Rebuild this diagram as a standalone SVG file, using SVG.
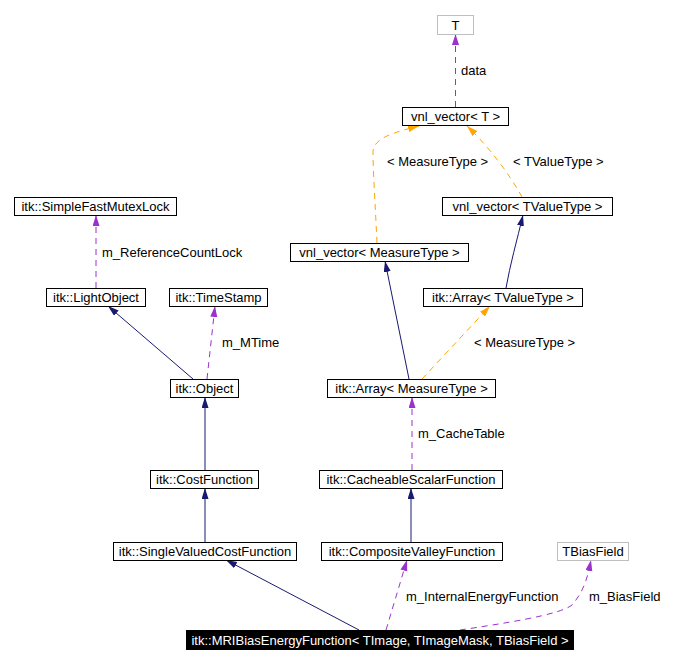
<svg xmlns="http://www.w3.org/2000/svg" width="689" height="665" viewBox="0 0 689 665">
<style>
  .box { fill: #ffffff; stroke: #000000; stroke-width: 1; }
  .gbox { fill: #ffffff; stroke: #bfbfbf; stroke-width: 1; }
  .dark { fill: #000000; stroke: #000000; stroke-width: 1; }
  text { font-family: "Liberation Sans", Arial, sans-serif; font-size: 13px; fill: #000000; }
  .nt { text-anchor: middle; }
  .wt { fill: #ffffff; }
  .inh { fill: none; stroke: #191970; stroke-width: 1; }
  .use { fill: none; stroke: #9a32cd; stroke-width: 1; stroke-dasharray: 6,5; }
  .tpl { fill: none; stroke: #ffa500; stroke-width: 1; stroke-dasharray: 6,5; }
</style>
<defs>
  <marker id="aInh" markerUnits="userSpaceOnUse" markerWidth="12" markerHeight="8" refX="11" refY="3.5" orient="auto">
    <path d="M0,0 L11,3.5 L0,7 z" fill="#191970"/>
  </marker>
  <marker id="aUse" markerUnits="userSpaceOnUse" markerWidth="12" markerHeight="8" refX="11" refY="3.5" orient="auto">
    <path d="M0,0 L11,3.5 L0,7 z" fill="#9a32cd"/>
  </marker>
  <marker id="aTpl" markerUnits="userSpaceOnUse" markerWidth="12" markerHeight="8" refX="11" refY="3.5" orient="auto">
    <path d="M0,0 L11,3.5 L0,7 z" fill="#ffa500"/>
  </marker>
</defs>

<g id="connectors">
  <path class="use" d="M455.5,107 L455.5,34" marker-end="url(#aUse)"/>
  <text x="461" y="75">data</text>
  <path class="tpl" d="M377,243 C375,200 373,170 373,152 C373,138 395,132 419,126" marker-end="url(#aTpl)"/>
  <text x="387" y="166">&lt; MeasureType &gt;</text>
  <path class="tpl" d="M522,197 C510,175 490,148 467,126" marker-end="url(#aTpl)"/>
  <text x="513" y="166">&lt; TValueType &gt;</text>
  <path class="inh" d="M506,288 C510,265 517,240 523,215" marker-end="url(#aInh)"/>
  <path class="inh" d="M409,379 L385,261" marker-end="url(#aInh)"/>
  <path class="tpl" d="M422,379 L490,306" marker-end="url(#aTpl)"/>
  <text x="474" y="347">&lt; MeasureType &gt;</text>
  <path class="use" d="M96,288 L96,215" marker-end="url(#aUse)"/>
  <text x="102" y="257">m_ReferenceCountLock</text>
  <path class="inh" d="M193,379 L108,306" marker-end="url(#aInh)"/>
  <path class="use" d="M207,379 L215,306" marker-end="url(#aUse)"/>
  <text x="222" y="347">m_MTime</text>
  <path class="inh" d="M205,470 L205,397" marker-end="url(#aInh)"/>
  <path class="use" d="M412,470 L412,397" marker-end="url(#aUse)"/>
  <text x="418" y="438">m_CacheTable</text>
  <path class="inh" d="M411,542 L411,488" marker-end="url(#aInh)"/>
  <path class="inh" d="M205,542 L205,488" marker-end="url(#aInh)"/>
  <path class="inh" d="M359,630 L226,560" marker-end="url(#aInh)"/>
  <path class="use" d="M386,630 L407,560" marker-end="url(#aUse)"/>
  <text x="406" y="601">m_InternalEnergyFunction</text>
  <path class="use" d="M460,630 C500,624 560,615 572,605 C585,590 588,575 591,560" marker-end="url(#aUse)"/>
  <text x="589" y="601">m_BiasField</text>
</g>

<g id="node-T"><rect class="gbox" x="437.5" y="15.5" width="36" height="19"/><text class="nt" x="455.5" y="29.5">T</text></g>
<g id="node-vnl_vector_T"><rect class="box" x="402.5" y="107.5" width="106" height="18"/><text class="nt" x="455.5" y="121">vnl_vector&lt; T &gt;</text></g>
<g id="node-SimpleFastMutexLock"><rect class="box" x="14.5" y="197.5" width="162" height="18"/><text class="nt" x="95.5" y="211">itk::SimpleFastMutexLock</text></g>
<g id="node-vnl_vector_TValueType"><rect class="box" x="442.5" y="197.5" width="170" height="18"/><text class="nt" x="527.5" y="211">vnl_vector&lt; TValueType &gt;</text></g>
<g id="node-vnl_vector_MeasureType"><rect class="box" x="290.5" y="243.5" width="178" height="18"/><text class="nt" x="379.5" y="257">vnl_vector&lt; MeasureType &gt;</text></g>
<g id="node-LightObject"><rect class="box" x="46.5" y="288.5" width="99" height="18"/><text class="nt" x="96" y="302">itk::LightObject</text></g>
<g id="node-TimeStamp"><rect class="box" x="169.5" y="288.5" width="98" height="18"/><text class="nt" x="218.5" y="302">itk::TimeStamp</text></g>
<g id="node-Array_TValueType"><rect class="box" x="423.5" y="288.5" width="159" height="18"/><text class="nt" x="503" y="302">itk::Array&lt; TValueType &gt;</text></g>
<g id="node-Object"><rect class="box" x="170.5" y="379.5" width="68" height="18"/><text class="nt" x="204.5" y="393">itk::Object</text></g>
<g id="node-Array_MeasureType"><rect class="box" x="327.5" y="379.5" width="168" height="18"/><text class="nt" x="411.5" y="393">itk::Array&lt; MeasureType &gt;</text></g>
<g id="node-CostFunction"><rect class="box" x="150.5" y="470.5" width="108" height="18"/><text class="nt" x="204.5" y="484">itk::CostFunction</text></g>
<g id="node-CacheableScalarFunction"><rect class="box" x="319.5" y="470.5" width="183" height="18"/><text class="nt" x="411" y="484">itk::CacheableScalarFunction</text></g>
<g id="node-SingleValuedCostFunction"><rect class="box" x="113.5" y="542.5" width="183" height="18"/><text class="nt" x="205" y="556">itk::SingleValuedCostFunction</text></g>
<g id="node-CompositeValleyFunction"><rect class="box" x="321.5" y="542.5" width="181" height="18"/><text class="nt" x="412" y="556">itk::CompositeValleyFunction</text></g>
<g id="node-TBiasField"><rect class="gbox" x="557.5" y="542.5" width="71" height="18"/><text class="nt" x="593" y="556">TBiasField</text></g>
<g id="node-MRIBiasEnergyFunction"><rect class="dark" x="186.5" y="630.5" width="387" height="19"/><text class="nt wt" x="380" y="645">itk::MRIBiasEnergyFunction&lt; TImage, TImageMask, TBiasField &gt;</text></g>
</svg>
